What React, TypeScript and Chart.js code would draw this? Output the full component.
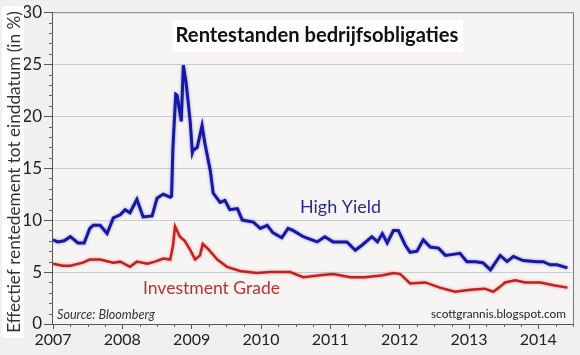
import React, { useEffect, useRef } from "react";
import { Chart, registerables } from "chart.js";

Chart.register(...registerables);

const chartTitle = "Rentestanden bedrijfsobligaties";
const yAxisTitle = "Effectief rentedement tot einddatum (in %)";
const highYieldLabel = "High Yield";
const investmentGradeLabel = "Investment Grade";
const sourceText = "Source: Bloomberg";
const creditText = "scottgrannis.blogspot.com";

const yearTicks = [2007, 2008, 2009, 2010, 2011, 2012, 2013, 2014];
const yTicks = [0, 5, 10, 15, 20, 25, 30];

const hyDates = [
  2007.0, 2007.07, 2007.16, 2007.25, 2007.36, 2007.45, 2007.53, 2007.58, 2007.68, 2007.78,
  2007.87, 2007.97, 2008.04, 2008.11, 2008.21, 2008.3, 2008.43, 2008.5, 2008.59, 2008.69,
  2008.71, 2008.73, 2008.77, 2008.79, 2008.85, 2008.88, 2008.92, 2008.98, 2009.01, 2009.02,
  2009.08, 2009.15, 2009.19, 2009.27, 2009.31, 2009.41, 2009.48, 2009.55, 2009.66, 2009.73,
  2009.89, 2009.99, 2010.09, 2010.17, 2010.3, 2010.39, 2010.46, 2010.61, 2010.81, 2010.92,
  2011.04, 2011.24, 2011.36, 2011.46, 2011.6, 2011.68, 2011.75, 2011.82, 2011.91, 2011.98,
  2012.08, 2012.15, 2012.25, 2012.34, 2012.44, 2012.56, 2012.66, 2012.77, 2012.87, 2012.97,
  2013.09, 2013.2, 2013.31, 2013.45, 2013.55, 2013.64, 2013.78, 2013.98, 2014.07, 2014.17,
  2014.27, 2014.42,
];
const hyValues = [
  8.1, 7.9, 8.0, 8.4, 7.8, 7.8, 9.2, 9.5, 9.5, 8.7,
  10.2, 10.5, 11.0, 10.7, 12.0, 10.3, 10.4, 12.1, 12.5, 12.2,
  12.3, 17.0, 22.1, 22.0, 19.5, 24.9, 23.2, 19.4, 16.5, 16.7,
  17.0, 19.1, 17.4, 14.7, 12.6, 11.7, 11.9, 11.0, 11.1, 10.0,
  9.8, 9.2, 9.5, 8.8, 8.3, 9.2, 9.0, 8.4, 7.9, 8.4,
  7.9, 7.9, 7.1, 7.6, 8.4, 7.9, 8.7, 7.8, 9.0, 9.0,
  7.6, 6.9, 7.0, 8.1, 7.4, 7.3, 6.6, 6.7, 6.8, 6.0,
  6.0, 5.9, 5.2, 6.6, 6.0, 6.5, 6.1, 6.0, 6.0, 5.7,
  5.7, 5.4,
];

const igDates = [
  2007.0, 2007.14, 2007.25, 2007.43, 2007.53, 2007.68, 2007.87, 2007.97, 2008.11, 2008.21,
  2008.36, 2008.47, 2008.59, 2008.69, 2008.73, 2008.76, 2008.83, 2008.9, 2008.98, 2009.05,
  2009.12, 2009.16, 2009.24, 2009.37, 2009.51, 2009.7, 2009.94, 2010.13, 2010.23, 2010.42,
  2010.61, 2010.85, 2011.04, 2011.29, 2011.5, 2011.76, 2011.91, 2012.01, 2012.15, 2012.37,
  2012.58, 2012.8, 2013.02, 2013.23, 2013.35, 2013.45, 2013.52, 2013.67, 2013.81, 2014.03,
  2014.24, 2014.42,
];
const igValues = [
  5.8, 5.6, 5.6, 5.9, 6.2, 6.2, 5.9, 6.0, 5.5, 6.0,
  5.8, 6.0, 6.3, 6.2, 7.5, 9.4, 8.4, 8.0, 7.1, 6.2,
  6.6, 7.7, 7.2, 6.2, 5.5, 5.1, 4.9, 5.0, 5.0, 5.0,
  4.5, 4.7, 4.8, 4.5, 4.5, 4.7, 4.9, 4.8, 3.9, 4.0,
  3.5, 3.1, 3.3, 3.4, 3.1, 3.6, 4.0, 4.2, 4.0, 4.0,
  3.7, 3.5,
];

const FONT = "Lato, 'DejaVu Sans', sans-serif";

function fitFont(ctx: CanvasRenderingContext2D, text: string, weight: string, style: string, width: number) {
  ctx.font = `${style} ${weight} 20px ${FONT}`;
  const w = ctx.measureText(text).width;
  const size = (20 * width) / w;
  return `${style} ${weight} ${size.toFixed(2)}px ${FONT}`;
}

const decorPlugin = {
  id: "decor",
  beforeDraw(chart: any) {
    const { ctx, chartArea: a } = chart;
    ctx.save();
    ctx.fillStyle = "#f1f0ef";
    ctx.fillRect(0, 0, chart.width, chart.height);
    ctx.fillStyle = "#f6f5f4";
    ctx.fillRect(a.left, a.top, a.right - a.left, a.bottom - a.top);
    ctx.restore();
  },
  afterDraw(chart: any) {
    const { ctx, chartArea: a, scales } = chart;
    const xs = scales.x;
    const ys = scales.y;
    ctx.save();
    // border
    ctx.strokeStyle = "#7a7a7a";
    ctx.lineWidth = 1;
    ctx.beginPath();
    ctx.moveTo(a.left, a.top + 0.5);
    ctx.lineTo(a.right + 0.5, a.top + 0.5);
    ctx.lineTo(a.right + 0.5, a.bottom);
    ctx.stroke();
    ctx.strokeStyle = "#555";
    ctx.beginPath();
    ctx.moveTo(a.left - 0.5, a.top);
    ctx.lineTo(a.left - 0.5, a.bottom + 0.5);
    ctx.lineTo(a.right, a.bottom + 0.5);
    ctx.stroke();
    // minor ticks
    ctx.strokeStyle = "#666";
    ctx.beginPath();
    for (let v = 0; v <= 30; v++) {
      if (v % 5 === 0) continue;
      const y = Math.round(ys.getPixelForValue(v)) + 0.5;
      ctx.moveTo(a.left - 4, y);
      ctx.lineTo(a.left, y);
    }
    for (let t = 2007; t <= 2014.5; t += 0.25) {
      if (Math.abs(t - Math.round(t)) < 1e-6) continue;
      const x = Math.round(xs.getPixelForValue(t)) + 0.5;
      ctx.moveTo(x, a.bottom);
      ctx.lineTo(x, a.bottom + 3);
    }
    ctx.stroke();

    // title box
    ctx.fillStyle = "#ffffff";
    ctx.fillRect(173, 20, 290, 32);
    ctx.fillStyle = "#111";
    ctx.font = fitFont(ctx, chartTitle, "bold", "normal", 283);
    ctx.textAlign = "center";
    ctx.textBaseline = "middle";
    ctx.fillText(chartTitle, 317, 35);

    // y axis title
    ctx.save();
    ctx.translate(13, 172);
    ctx.rotate(-Math.PI / 2);
    ctx.font = fitFont(ctx, yAxisTitle, "normal", "normal", 322);
    ctx.fillStyle = "#ffffff";
    ctx.fillRect(-166, -11, 332, 22);
    ctx.fillStyle = "#333";
    ctx.textAlign = "center";
    ctx.textBaseline = "middle";
    ctx.fillText(yAxisTitle, 0, 1);
    ctx.restore();

    // series labels
    ctx.textAlign = "left";
    ctx.textBaseline = "alphabetic";
    ctx.fillStyle = "#2b2b8f";
    ctx.font = fitFont(ctx, highYieldLabel, "normal", "normal", 81);
    ctx.fillText(highYieldLabel, 300, 213);
    ctx.fillStyle = "#c0302c";
    ctx.font = fitFont(ctx, investmentGradeLabel, "normal", "normal", 137);
    ctx.fillText(investmentGradeLabel, 143, 294);
    ctx.fillStyle = "#333";
    ctx.font = fitFont(ctx, sourceText, "normal", "italic", 98);
    ctx.fillText(sourceText, 57, 319);
    ctx.fillStyle = "#222";
    ctx.font = fitFont(ctx, creditText, "normal", "normal", 135);
    ctx.fillText(creditText, 431, 318);
    ctx.restore();
  },
  beforeDatasetDraw(chart: any, args: any) {
    const ctx = chart.ctx;
    ctx.save();
    ctx.shadowColor = args.index === 0 ? "rgba(40,40,200,0.5)" : "rgba(220,60,60,0.5)";
    ctx.shadowBlur = 3;
  },
  afterDatasetDraw(chart: any) {
    chart.ctx.restore();
  },
};

export default function App() {
  const ref = useRef<HTMLCanvasElement | null>(null);
  useEffect(() => {
    if (!ref.current) return;
    const chart = new Chart(ref.current, {
      type: "line",
      data: {
        datasets: [
          {
            label: highYieldLabel,
            data: hyDates.map((d, i) => ({ x: d, y: hyValues[i] })),
            borderColor: "#1717a3",
            borderWidth: 3,
            pointRadius: 0,
            tension: 0,
            fill: false,
          },
          {
            label: investmentGradeLabel,
            data: igDates.map((d, i) => ({ x: d, y: igValues[i] })),
            borderColor: "#c4211d",
            borderWidth: 2.5,
            pointRadius: 0,
            tension: 0,
            fill: false,
          },
        ],
      },
      options: {
        responsive: false,
        animation: false,
        layout: { padding: { top: 12, right: 7, left: 0, bottom: 0 } },
        plugins: { legend: { display: false }, tooltip: { enabled: false }, title: { display: false } },
        scales: {
          x: {
            type: "linear",
            min: 2007,
            max: 2014.5,
            afterBuildTicks: (s: any) => {
              s.ticks = yearTicks.map((v) => ({ value: v }));
            },
            afterFit: (s: any) => {
              s.height = 31;
            },
            border: { display: false },
            grid: { color: "rgba(0,0,0,0)", tickColor: "#555", tickLength: 5, drawOnChartArea: false },
            ticks: {
              color: "#222",
              font: { family: FONT, size: 16 },
              padding: 1,
              maxRotation: 0,
              autoSkip: false,
              callback: (v: any) => String(v),
            },
          },
          y: {
            min: 0,
            max: 30,
            afterBuildTicks: (s: any) => {
              s.ticks = yTicks.map((v) => ({ value: v }));
            },
            afterFit: (s: any) => {
              s.width = 53;
            },
            border: { display: false },
            grid: {
              color: (c: any) => (c.tick && (c.tick.value === 0 || c.tick.value === 30) ? "rgba(0,0,0,0)" : "#c9cfd0"),
              tickColor: "#555",
              tickLength: 9,
            },
            ticks: {
              color: "#222",
              font: { family: FONT, size: 17 },
              padding: 2,
              callback: (v: any) => String(v),
            },
          },
        },
      },
      plugins: [decorPlugin],
    });
    return () => chart.destroy();
  }, []);
  return (
    <div style={{ position: "absolute", left: 0, top: 0, width: 580, height: 355 }}>
      <canvas ref={ref} width={580} height={355} style={{ display: "block" }} />
    </div>
  );
}
